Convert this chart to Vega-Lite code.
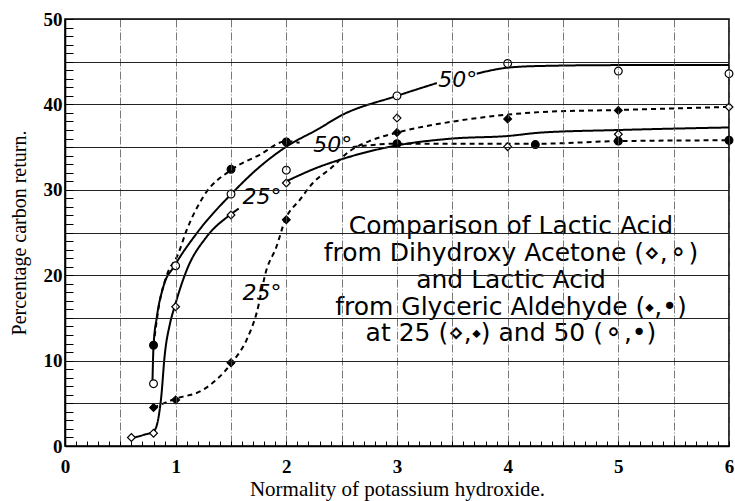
{
  "$schema": "https://vega.github.io/schema/vega-lite/v6.json",
  "width": 664,
  "height": 427,
  "autosize": {"type": "none"},
  "padding": {"left": 65, "top": 19, "right": 6, "bottom": 55},
  "background": "white",
  "config": {
    "view": {"stroke": "black", "strokeWidth": 1.6},
    "axis": {
      "labelFont": "Liberation Serif",
      "labelFontSize": 19,
      "labelFontWeight": "bold",
      "labelColor": "black",
      "titleFont": "Liberation Serif",
      "titleFontWeight": "normal",
      "titleColor": "black",
      "domainColor": "black",
      "domainWidth": 1.6
    }
  },
  "datasets": {
    "pts": [
      {"series": "DHA25", "x": 0.6, "y": 1.0},
      {"series": "DHA25", "x": 0.8, "y": 1.5},
      {"series": "DHA25", "x": 1.0, "y": 16.3},
      {"series": "DHA25", "x": 1.5, "y": 27.05},
      {"series": "DHA25", "x": 2.0, "y": 30.8},
      {"series": "DHA25", "x": 3.0, "y": 38.4},
      {"series": "DHA25", "x": 4.0, "y": 35.05},
      {"series": "DHA25", "x": 5.0, "y": 36.5},
      {"series": "DHA25", "x": 6.0, "y": 39.7},
      {"series": "DHA50", "x": 0.8, "y": 7.3},
      {"series": "DHA50", "x": 1.0, "y": 21.1},
      {"series": "DHA50", "x": 1.5, "y": 29.5},
      {"series": "DHA50", "x": 2.0, "y": 32.3},
      {"series": "DHA50", "x": 3.0, "y": 41.0},
      {"series": "DHA50", "x": 4.0, "y": 44.8},
      {"series": "DHA50", "x": 5.0, "y": 43.9},
      {"series": "DHA50", "x": 6.0, "y": 43.6},
      {"series": "GA25", "x": 0.8, "y": 4.5},
      {"series": "GA25", "x": 1.0, "y": 5.4},
      {"series": "GA25", "x": 1.5, "y": 9.75},
      {"series": "GA25", "x": 2.0, "y": 26.5},
      {"series": "GA25", "x": 3.0, "y": 36.7},
      {"series": "GA25", "x": 4.0, "y": 38.3},
      {"series": "GA25", "x": 5.0, "y": 39.3},
      {"series": "GA50", "x": 0.8, "y": 11.8},
      {"series": "GA50", "x": 1.5, "y": 32.4},
      {"series": "GA50", "x": 2.0, "y": 35.6},
      {"series": "GA50", "x": 3.0, "y": 35.4},
      {"series": "GA50", "x": 4.25, "y": 35.3},
      {"series": "GA50", "x": 5.0, "y": 35.7},
      {"series": "GA50", "x": 6.0, "y": 35.8}
    ],
    "crv": [
      {"seg": "S50a", "style": "solid", "x": 0.79, "y": 7.3},
      {"seg": "S50a", "style": "solid", "x": 0.8, "y": 11.7},
      {"seg": "S50a", "style": "solid", "x": 0.83, "y": 15.1},
      {"seg": "S50a", "style": "solid", "x": 0.89, "y": 18.7},
      {"seg": "S50a", "style": "solid", "x": 0.99, "y": 21.1},
      {"seg": "S50a", "style": "solid", "x": 1.19, "y": 24.9},
      {"seg": "S50a", "style": "solid", "x": 1.51, "y": 29.6},
      {"seg": "S50a", "style": "solid", "x": 1.76, "y": 32.7},
      {"seg": "S50a", "style": "solid", "x": 2.0, "y": 35.05},
      {"seg": "S50a", "style": "solid", "x": 2.3, "y": 37.2},
      {"seg": "S50a", "style": "solid", "x": 2.48, "y": 38.6},
      {"seg": "S50a", "style": "solid", "x": 3.0, "y": 41.0},
      {"seg": "S50a", "style": "solid", "x": 3.36, "y": 42.5},
      {"seg": "S50b", "style": "solid", "x": 3.72, "y": 43.6},
      {"seg": "S50b", "style": "solid", "x": 4.0, "y": 44.3},
      {"seg": "S50b", "style": "solid", "x": 4.3, "y": 44.5},
      {"seg": "S50b", "style": "solid", "x": 5.0, "y": 44.6},
      {"seg": "S50b", "style": "solid", "x": 6.0, "y": 44.6},
      {"seg": "S25a", "style": "solid", "x": 0.6, "y": 0.9},
      {"seg": "S25a", "style": "solid", "x": 0.71, "y": 1.3},
      {"seg": "S25a", "style": "solid", "x": 0.8, "y": 1.7},
      {"seg": "S25a", "style": "solid", "x": 0.84, "y": 3.0},
      {"seg": "S25a", "style": "solid", "x": 0.87, "y": 5.8},
      {"seg": "S25a", "style": "solid", "x": 0.9, "y": 10.5},
      {"seg": "S25a", "style": "solid", "x": 0.95, "y": 14.4},
      {"seg": "S25a", "style": "solid", "x": 0.99, "y": 16.3},
      {"seg": "S25a", "style": "solid", "x": 1.1, "y": 20.6},
      {"seg": "S25a", "style": "solid", "x": 1.28, "y": 24.5},
      {"seg": "S25a", "style": "solid", "x": 1.49, "y": 27.05},
      {"seg": "S25a", "style": "solid", "x": 1.57, "y": 27.8},
      {"seg": "S25b", "style": "solid", "x": 2.0, "y": 31.0},
      {"seg": "S25b", "style": "solid", "x": 2.3, "y": 32.7},
      {"seg": "S25b", "style": "solid", "x": 2.48, "y": 33.5},
      {"seg": "S25b", "style": "solid", "x": 3.0, "y": 35.2},
      {"seg": "S25b", "style": "solid", "x": 3.5, "y": 36.0},
      {"seg": "S25b", "style": "solid", "x": 4.0, "y": 36.3},
      {"seg": "S25b", "style": "solid", "x": 4.3, "y": 36.7},
      {"seg": "S25b", "style": "solid", "x": 5.0, "y": 37.0},
      {"seg": "S25b", "style": "solid", "x": 6.0, "y": 37.3},
      {"seg": "D50a", "style": "dashed", "x": 0.8, "y": 11.8},
      {"seg": "D50a", "style": "dashed", "x": 0.85, "y": 16.5},
      {"seg": "D50a", "style": "dashed", "x": 0.92, "y": 20.0},
      {"seg": "D50a", "style": "dashed", "x": 1.02, "y": 22.4},
      {"seg": "D50a", "style": "dashed", "x": 1.1, "y": 25.3},
      {"seg": "D50a", "style": "dashed", "x": 1.25, "y": 29.2},
      {"seg": "D50a", "style": "dashed", "x": 1.51, "y": 32.4},
      {"seg": "D50a", "style": "dashed", "x": 1.76, "y": 34.1},
      {"seg": "D50a", "style": "dashed", "x": 2.0, "y": 35.7},
      {"seg": "D50a", "style": "dashed", "x": 2.12, "y": 35.5},
      {"seg": "D50b", "style": "dashed", "x": 2.6, "y": 35.0},
      {"seg": "D50b", "style": "dashed", "x": 3.0, "y": 35.4},
      {"seg": "D50b", "style": "dashed", "x": 3.45, "y": 35.4},
      {"seg": "D50b", "style": "dashed", "x": 4.29, "y": 35.4},
      {"seg": "D50b", "style": "dashed", "x": 5.0, "y": 35.7},
      {"seg": "D50b", "style": "dashed", "x": 6.0, "y": 35.8},
      {"seg": "D25", "style": "dashed", "x": 0.8, "y": 4.5},
      {"seg": "D25", "style": "dashed", "x": 0.99, "y": 5.5},
      {"seg": "D25", "style": "dashed", "x": 1.25, "y": 6.6},
      {"seg": "D25", "style": "dashed", "x": 1.51, "y": 9.8},
      {"seg": "D25", "style": "dashed", "x": 1.64, "y": 12.4},
      {"seg": "D25", "style": "dashed", "x": 1.73, "y": 15.5},
      {"seg": "D25", "style": "dashed", "x": 1.82, "y": 20.6},
      {"seg": "D25", "style": "dashed", "x": 1.91, "y": 23.3},
      {"seg": "D25", "style": "dashed", "x": 1.99, "y": 26.5},
      {"seg": "D25", "style": "dashed", "x": 2.12, "y": 28.8},
      {"seg": "D25", "style": "dashed", "x": 2.24, "y": 30.8},
      {"seg": "D25", "style": "dashed", "x": 2.4, "y": 32.5},
      {"seg": "D25", "style": "dashed", "x": 2.57, "y": 34.5},
      {"seg": "D25", "style": "dashed", "x": 2.75, "y": 35.7},
      {"seg": "D25", "style": "dashed", "x": 3.0, "y": 36.7},
      {"seg": "D25", "style": "dashed", "x": 3.51, "y": 38.0},
      {"seg": "D25", "style": "dashed", "x": 4.0, "y": 38.8},
      {"seg": "D25", "style": "dashed", "x": 4.29, "y": 39.1},
      {"seg": "D25", "style": "dashed", "x": 5.0, "y": 39.35},
      {"seg": "D25", "style": "dashed", "x": 6.0, "y": 39.7}
    ],
    "lbl": [
      {"t": "50°", "x": 3.55, "y": 42.9},
      {"t": "50°", "x": 2.42, "y": 35.2},
      {"t": "25°", "x": 1.78, "y": 29.2},
      {"t": "25°", "x": 1.78, "y": 17.9}
    ],
    "note": [
      {"t": "Comparison of Lactic Acid", "x": 4.03, "y": 25.8},
      {"t": "from Dihydroxy Acetone (⋄,⚬)", "x": 4.03, "y": 22.6},
      {"t": "and Lactic Acid", "x": 4.03, "y": 19.4},
      {"t": "from Glyceric Aldehyde (⬩,•)", "x": 4.03, "y": 16.3},
      {"t": "at 25 (⋄,⬩) and 50 (⚬,•)", "x": 4.03, "y": 13.2}
    ]
  },
  "encoding": {
    "x": {
      "field": "x",
      "type": "quantitative",
      "scale": {"domain": [0, 6], "nice": false, "zero": false},
      "axis": {
        "title": "Normality of potassium hydroxide.",
        "titleFontSize": 21,
        "titlePadding": 2,
        "values": [0,0.1,0.2,0.3,0.4,0.5,0.6,0.7,0.8,0.9,1,1.1,1.2,1.3,1.4,1.5,1.6,1.7,1.8,1.9,2,2.1,2.2,2.3,2.4,2.5,2.6,2.7,2.8,2.9,3,3.1,3.2,3.3,3.4,3.5,3.6,3.7,3.8,3.9,4,4.1,4.2,4.3,4.4,4.5,4.6,4.7,4.8,4.9,5,5.1,5.2,5.3,5.4,5.5,5.6,5.7,5.8,5.9,6],
        "labelExpr": "abs(datum.value - round(datum.value)) < 0.001 ? format(datum.value, 'd') : ''",
        "labelPadding": 16,
        "labelFlush": false,
        "labelOverlap": false,
        "ticks": true,
        "tickSize": -5,
        "tickColor": "black",
        "tickWidth": 1,
        "zindex": 1,
        "grid": true,
        "gridColor": "#555",
        "gridWidth": 0.8,
        "gridDash": [8, 2, 1, 2],
        "gridOpacity": {"condition": {"test": "abs(datum.value*2 - round(datum.value*2)) < 0.001", "value": 1}, "value": 0}
      }
    },
    "y": {
      "field": "y",
      "type": "quantitative",
      "scale": {"domain": [0, 50], "nice": false, "zero": false},
      "axis": {
        "title": "Percentage carbon return.",
        "titleFontSize": 20,
        "titlePadding": 14,
        "values": [0,1,2,3,4,5,6,7,8,9,10,11,12,13,14,15,16,17,18,19,20,21,22,23,24,25,26,27,28,29,30,31,32,33,34,35,36,37,38,39,40,41,42,43,44,45,46,47,48,49,50],
        "labelExpr": "datum.value % 10 === 0 ? datum.label : ''",
        "labelPadding": 11,
        "labelFlush": false,
        "labelOverlap": false,
        "ticks": true,
        "tickSize": -8,
        "tickColor": "black",
        "tickWidth": 1,
        "zindex": 1,
        "grid": true,
        "gridColor": "#222",
        "gridWidth": 1,
        "gridOpacity": {"condition": {"test": "datum.value % 5 === 0", "value": 1}, "value": 0}
      }
    }
  },
  "layer": [
    {
      "data": {"name": "crv"},
      "mark": {"type": "line", "interpolate": "monotone", "color": "black", "strokeWidth": 2},
      "encoding": {
        "detail": {"field": "seg"},
        "strokeDash": {
          "field": "style",
          "type": "nominal",
          "scale": {"domain": ["solid", "dashed"], "range": [[1, 0], [5, 4]]},
          "legend": null
        }
      }
    },
    {
      "data": {"name": "pts"},
      "mark": {"type": "point", "filled": true, "stroke": "black", "strokeWidth": 1.2, "opacity": 1, "size": 60},
      "encoding": {
        "shape": {
          "field": "series",
          "type": "nominal",
          "scale": {"domain": ["DHA25", "DHA50", "GA25", "GA50"], "range": ["diamond", "circle", "diamond", "circle"]},
          "legend": null
        },
        "fill": {
          "field": "series",
          "type": "nominal",
          "scale": {"domain": ["DHA25", "DHA50", "GA25", "GA50"], "range": ["white", "white", "black", "black"]},
          "legend": null
        }
      }
    },
    {
      "data": {"name": "lbl"},
      "mark": {"type": "text", "font": "DejaVu Sans", "fontSize": 22, "fontStyle": "italic", "color": "black", "align": "center", "baseline": "middle"},
      "encoding": {"text": {"field": "t"}}
    },
    {
      "data": {"name": "note"},
      "mark": {"type": "text", "font": "DejaVu Sans", "fontSize": 25, "stroke": "white", "strokeWidth": 6, "fill": "white", "align": "center", "baseline": "middle"},
      "encoding": {"text": {"field": "t"}}
    },
    {
      "data": {"name": "note"},
      "mark": {"type": "text", "font": "DejaVu Sans", "fontSize": 25, "color": "black", "align": "center", "baseline": "middle"},
      "encoding": {"text": {"field": "t"}}
    }
  ]
}
